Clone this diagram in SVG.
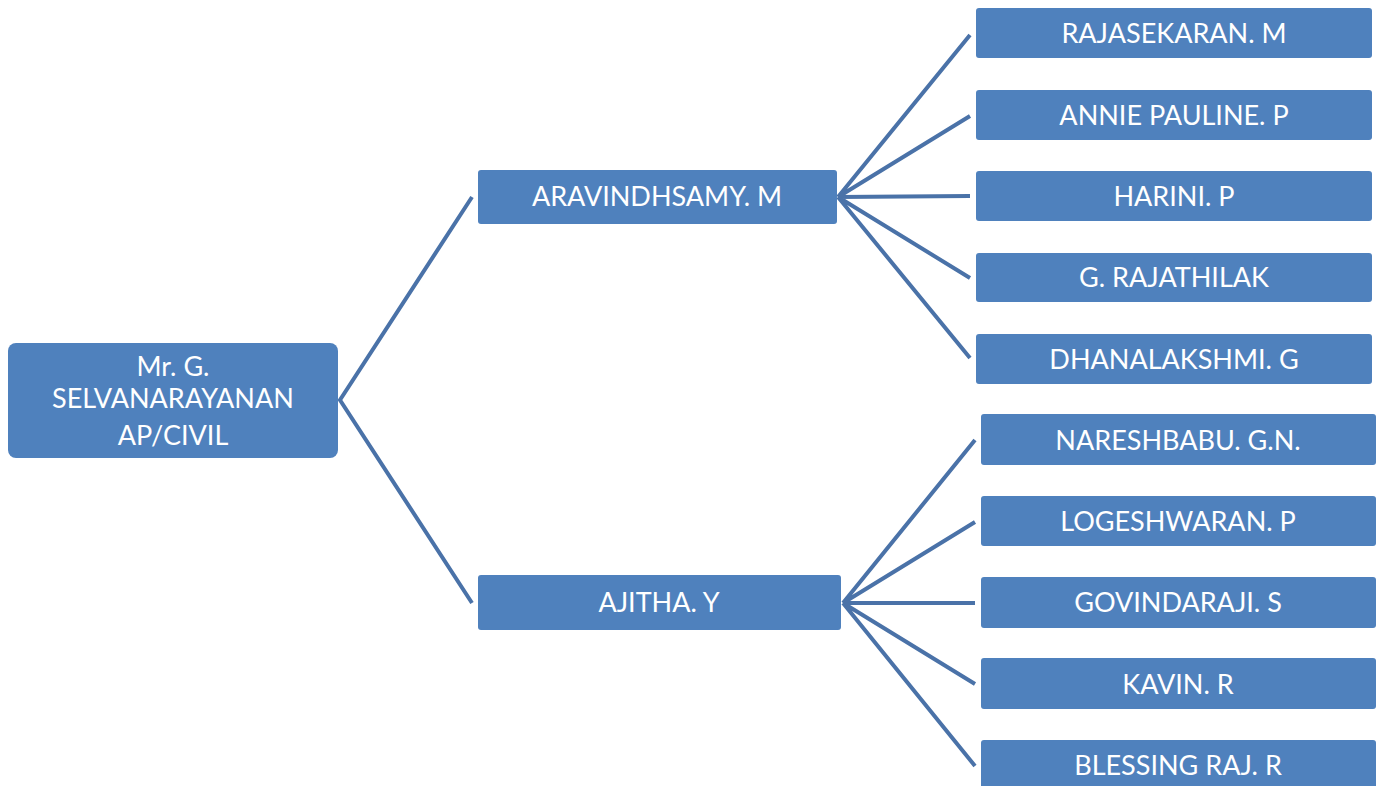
<svg xmlns="http://www.w3.org/2000/svg" width="1385" height="786" viewBox="0 0 1385 786">
<style>
.box{fill:#4f81bd;}
.t{fill:#ffffff;font-family:Lato,"Open Sans","Liberation Sans",sans-serif;font-size:27px;text-anchor:middle;}
.c{stroke:#4a72a8;stroke-width:4;fill:none;stroke-linecap:butt;}
</style>
<rect width="1385" height="786" fill="#ffffff"/>
<g id="connectors">
<path class="c" d="M472,197 L340,400 L472,603"/>
<path class="c" d="M970,35 L838,197 M970,116 L838,197 M970,196 L838,197 M970,278 L838,197 M970,358 L838,197"/>
<path class="c" d="M975,440 L843,603 M975,522 L843,603 M975,603 L843,603 M975,684 L843,603 M975,766 L843,603"/>
</g>
<g id="root">
<rect class="box" x="8" y="343" width="330" height="115" rx="8"/>
<text class="t" x="173" y="376">Mr. G.</text>
<text class="t" x="173" y="408">SELVANARAYANAN</text>
<text class="t" x="173" y="445">AP/CIVIL</text>
</g>
<g id="aravindhsamy">
<rect class="box" x="478" y="170" width="359" height="54" rx="3"/>
<text class="t" x="657" y="206">ARAVINDHSAMY. M</text>
</g>
<g id="ajitha">
<rect class="box" x="478" y="575" width="363" height="55" rx="3"/>
<text class="t" x="659" y="612">AJITHA. Y</text>
</g>
<g id="rajasekaran">
<rect class="box" x="976" y="8" width="396" height="50" rx="3"/>
<text class="t" x="1174" y="43">RAJASEKARAN. M</text>
</g>
<g id="annie">
<rect class="box" x="976" y="90" width="396" height="50" rx="3"/>
<text class="t" x="1174" y="125">ANNIE PAULINE. P</text>
</g>
<g id="harini">
<rect class="box" x="976" y="171" width="396" height="50" rx="3"/>
<text class="t" x="1174" y="206">HARINI. P</text>
</g>
<g id="rajathilak">
<rect class="box" x="976" y="253" width="396" height="49" rx="3"/>
<text class="t" x="1174" y="287">G. RAJATHILAK</text>
</g>
<g id="dhanalakshmi">
<rect class="box" x="976" y="334" width="396" height="50" rx="3"/>
<text class="t" x="1174" y="369">DHANALAKSHMI. G</text>
</g>
<g id="nareshbabu">
<rect class="box" x="981" y="414" width="395" height="51" rx="3"/>
<text class="t" x="1178" y="450">NARESHBABU. G.N.</text>
</g>
<g id="logeshwaran">
<rect class="box" x="981" y="496" width="395" height="50" rx="3"/>
<text class="t" x="1178" y="531">LOGESHWARAN. P</text>
</g>
<g id="govindaraji">
<rect class="box" x="981" y="577" width="395" height="51" rx="3"/>
<text class="t" x="1178" y="612">GOVINDARAJI. S</text>
</g>
<g id="kavin">
<rect class="box" x="981" y="658" width="395" height="51" rx="3"/>
<text class="t" x="1178" y="694">KAVIN. R</text>
</g>
<g id="blessing">
<rect class="box" x="981" y="740" width="395" height="56" rx="3"/>
<text class="t" x="1178" y="775">BLESSING RAJ. R</text>
</g>
</svg>
